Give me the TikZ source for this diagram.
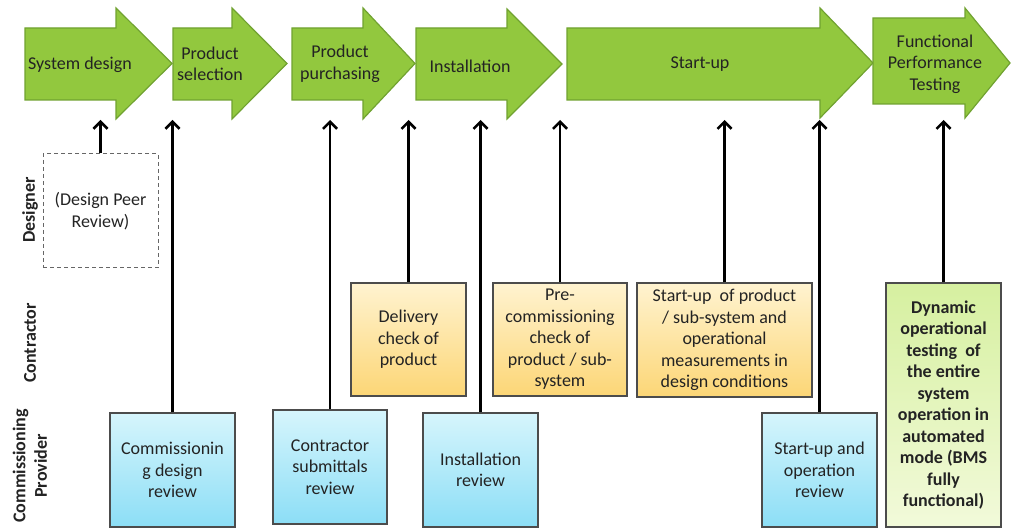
\documentclass[tikz,border=0pt]{standalone}
\usepackage{fontspec}
\setmainfont{Carlito}
\usetikzlibrary{arrows.meta}

\definecolor{stagefill}{RGB}{146,200,62}
\definecolor{stageedge}{RGB}{112,162,48}
\definecolor{cptop}{RGB}{214,245,252}
\definecolor{cpbot}{RGB}{140,222,246}
\definecolor{cxtop}{RGB}{255,243,208}
\definecolor{cxbot}{RGB}{252,214,118}
\definecolor{fptop}{RGB}{214,240,160}
\definecolor{fpbot}{RGB}{242,250,218}
\definecolor{ink}{RGB}{35,35,35}

\newcommand{\boxfont}{\fontsize{18}{21.5}\selectfont}

% one green phase arrow: x0, head base, tip, body top, body bottom, head top, head bottom
\newcommand{\phasearrow}[7]{%
\draw[stage] (#1,#4) -- (#2,#4) -- (#2,#6) -- (#3,{(#6+#7)/2}) -- (#2,#7) -- (#2,#5) -- (#1,#5) -- cycle;}

\tikzset{
  stage/.style={fill=stagefill, draw=stageedge, line width=1.2pt},
  phase/.style={align=center, text=ink},
  lane/.style={rotate=90, font=\boxfont\bfseries, align=center, text=ink},
  task/.style={draw=black!70, line width=1.2pt, align=center, text=ink, inner sep=2pt},
  cpbox/.style={task, top color=cptop, bottom color=cpbot},
  cxbox/.style={task, top color=cxtop, bottom color=cxbot},
  fpbox/.style={task, top color=fptop, bottom color=fpbot, font=\boxfont\bfseries},
  up/.style={-{Straight Barb[length=7pt,width=14pt]}, line width=2.6pt}
}

\begin{document}
\begin{tikzpicture}[x=1pt, y=-1pt, font=\boxfont]
\useasboundingbox (0,0) rectangle (1012,529);

% phases along the top
\phasearrow{25}{116}{172}{28}{100}{8}{119}
\phasearrow{173}{232}{287}{28}{100}{8}{119}
\phasearrow{292}{363}{415}{28}{100}{8}{119}
\phasearrow{416}{507}{562}{28}{100}{9}{119}
\phasearrow{567}{820}{873}{28}{100}{8}{118}
\phasearrow{873}{965}{1010}{18}{104}{8}{118}

\node[phase] (sd) at (80,65) {System design};
\node[phase] (ps) at (210,64) {Product\\selection};
\node[phase] (pp) at (340,64) {Product\\purchasing};
\node[phase] (in) at (470,66) {Installation};
\node[phase] (su) at (700,64) {Start-up};
\node[phase] (fpt) at (935,64) {Functional\\Performance\\Testing};

% lanes
\node[lane] (designer) at (30,210) {Designer};
\node[lane] (contractor) at (30,343) {Contractor};
\node[lane] (provider) at (30,466) {Commissioning\\Provider};

% tasks
\node[task, dashed, draw=black!60, line width=1pt, dash pattern=on 4pt off 3pt,
  minimum width=115pt, minimum height=114pt] (dpr) at (100.5,211) {(Design Peer\\Review)};
\node[cpbox, minimum width=125pt, minimum height=114pt] (cdr) at (172.5,470) {Commissionin\\g design\\review};
\node[cpbox, minimum width=114pt, minimum height=114pt] (csr) at (330,467) {Contractor\\submittals\\review};
\node[cxbox, minimum width=115pt, minimum height=113pt] (dcp) at (408.5,339.5) {Delivery\\check of\\product};
\node[cpbox, minimum width=115pt, minimum height=114pt] (irv) at (480.5,470) {Installation\\review};
\node[cxbox, minimum width=134pt, minimum height=113pt] (pcc) at (560,339.5) {Pre-\\commissioning\\check of\\product / sub-\\system};
\node[cxbox, minimum width=175pt, minimum height=114pt] (sup) at (724.5,340) {Start-up\ \ of product\\/ sub-system and\\operational\\measurements in\\design conditions};
\node[cpbox, minimum width=115pt, minimum height=114pt] (sor) at (819.5,470) {Start-up and\\operation\\review};
\node[fpbox, minimum width=115pt, minimum height=244pt] (dyn) at (943.5,405) {Dynamic\\operational\\testing\ \ of\\the entire\\system\\operation in\\automated\\mode (BMS\\fully\\functional)};

% links up to the phases
\coordinate (phaseline) at (0,120);
\foreach \t in {dpr,cdr,csr,dcp,irv,pcc,sup,sor,dyn}
  \draw[up] (\t.north) -- (\t.north |- phaseline);
\end{tikzpicture}
\end{document}
